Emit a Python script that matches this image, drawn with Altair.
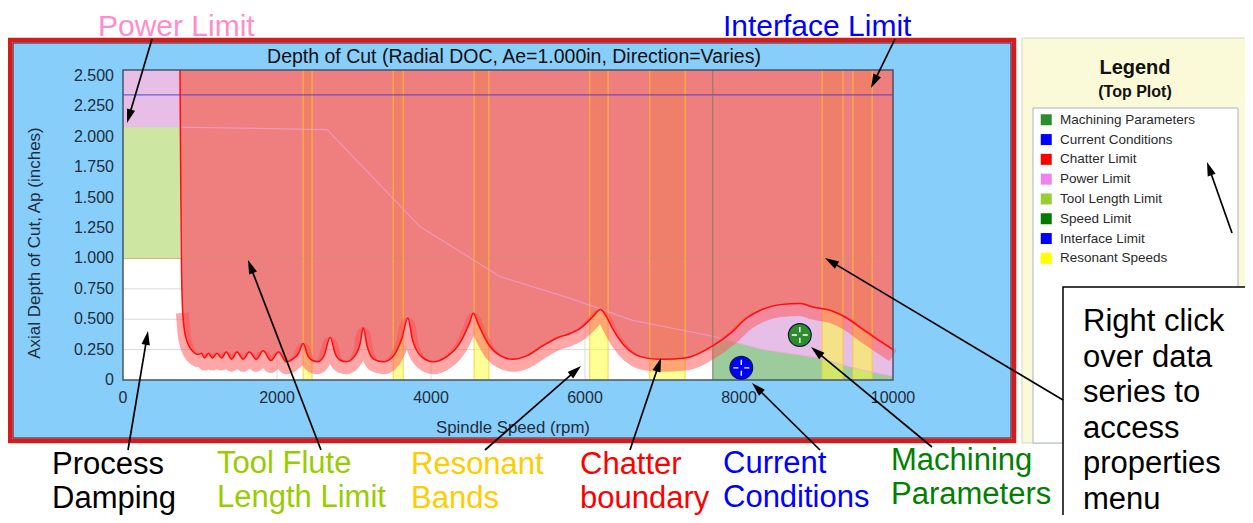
import math
import altair as alt
import pandas as pd

# ---------------- data ----------------
chatter_rpm = [740, 748, 758, 772, 795, 825, 865, 915, 970, 1020, 1060, 1110, 1160, 1220, 1280, 1340,
               1410, 1480, 1560, 1640, 1730, 1820, 1920, 2020, 2120, 2200, 2280, 2340, 2400, 2460,
               2530, 2610, 2690, 2760, 2830, 2900, 3000, 3080, 3120, 3170, 3260, 3380, 3500, 3620,
               3700, 3760, 3880, 4030, 4200, 4380, 4500, 4550, 4620, 4750, 4900, 5060, 5250, 5450,
               5650, 5800, 5950, 6100, 6200, 6280, 6360, 6500, 6650, 6800, 7010, 7300, 7660, 7900,
               8100, 8300, 8530, 8800, 8960, 9200, 9400, 9600, 9830, 10000]
chatter_ap = [2.55, 1.8, 1.0, 0.6, 0.42, 0.33, 0.27, 0.23, 0.21, 0.22, 0.18, 0.22, 0.18, 0.22, 0.18, 0.23,
              0.17, 0.23, 0.17, 0.23, 0.17, 0.24, 0.16, 0.23, 0.15, 0.17, 0.22, 0.30, 0.20, 0.16,
              0.15, 0.20, 0.35, 0.21, 0.16, 0.15, 0.19, 0.30, 0.43, 0.28, 0.17, 0.15, 0.19, 0.34,
              0.51, 0.33, 0.19, 0.15, 0.19, 0.31, 0.47, 0.55, 0.45, 0.29, 0.20, 0.17, 0.20, 0.28,
              0.35, 0.38, 0.43, 0.52, 0.58, 0.52, 0.42, 0.29, 0.21, 0.18, 0.17, 0.18, 0.28, 0.39,
              0.51, 0.58, 0.62, 0.63, 0.60, 0.57, 0.51, 0.42, 0.32, 0.25]

power_rpm = [0, 740, 2650, 3860, 4900, 5770, 6620, 7660, 8310, 8960, 9610, 10000]
power_ap = [2.08, 2.08, 2.06, 1.26, 0.85, 0.68, 0.49, 0.36, 0.25, 0.19, 0.08, 0.03]

band_start = [2340, 3510, 4560, 6060, 6840, 9080, 9480]
band_end = [2455, 3640, 4750, 6300, 7300, 9350, 9730]

tool_length_limit = 1.0
interface_limit = 2.345
speed_limit = 7660
ap_top = 2.55

point_series = ["Current Conditions", "Machining Parameters"]
point_rpm = [8030, 8790]
point_ap = [0.10, 0.37]

legend_names = ["Machining Parameters", "Current Conditions", "Chatter Limit", "Power Limit",
                "Tool Length Limit", "Speed Limit", "Interface Limit", "Resonant Speeds"]
legend_colors = ["#2e8b2e", "#0000ff", "#ff0000", "#ee82ee", "#9acd32", "#007a00", "#0000ff", "#ffff00"]

x_ticks = [0, 2000, 4000, 6000, 8000, 10000]
x_tick_labels = ["0", "2000", "4000", "6000", "8000", "10000"]
y_ticks = [0, 0.25, 0.5, 0.75, 1.0, 1.25, 1.5, 1.75, 2.0, 2.25, 2.5]
y_tick_labels = ["0", "0.250", "0.500", "0.750", "1.000", "1.250", "1.500", "1.750", "2.000",
                 "2.250", "2.500"]
x_grid = [2000, 4000, 6000, 8000]
y_grid = [0.25, 0.5, 0.75, 1.0, 1.25, 1.5, 1.75, 2.0, 2.25, 2.5]

# ---------------- tables ----------------
chatter_df = pd.DataFrame({"rpm": chatter_rpm, "ap": chatter_ap})
power_df = pd.DataFrame({"rpm": power_rpm, "ap": power_ap})
bands_df = pd.DataFrame({"start": band_start, "end": band_end})
edges_df = pd.DataFrame({"rpm": band_start + band_end})
points_df = pd.DataFrame({"series": point_series, "rpm": point_rpm, "ap": point_ap})
xgrid_df = pd.DataFrame({"g": x_grid})
ygrid_df = pd.DataFrame({"g": y_grid})
xt_df = pd.DataFrame({"t": x_ticks, "lab": x_tick_labels})
yt_df = pd.DataFrame({"t": y_ticks, "lab": y_tick_labels})
one = pd.DataFrame({"k": [0]})

FONT = "Liberation Sans, Arial, Helvetica, sans-serif"
W, H = 1237, 507
chatter_start = chatter_rpm[0]


def P(v):
    return v - 8


XS = alt.Scale(domain=[0, 10000], range=[P(123), P(893)], nice=False, zero=False)
YS = alt.Scale(domain=[0, ap_top], range=[P(380), P(70)], nice=False, zero=False)


def XF(f):
    return alt.X(f, type="quantitative", scale=XS, axis=None)


def YF(f):
    return alt.Y(f, type="quantitative", scale=YS, axis=None)


def XD(v):
    return alt.XDatum(v, type="quantitative", scale=XS, axis=None)


def YD(v):
    return alt.YDatum(v, type="quantitative", scale=YS, axis=None)


def pix_rect(x1, y1, x2, y2, **kw):
    return alt.Chart(one).mark_rect(**kw).encode(
        x=alt.value(P(x1)), x2=alt.value(P(x2)), y=alt.value(P(y1)), y2=alt.value(P(y2)))


def txt(s, x, y, size, color, align="left", baseline="alphabetic", weight="normal", angle=None):
    kw = dict(text=s, align=align, baseline=baseline, fontSize=size, font=FONT, color=color,
              fontWeight=weight)
    if angle is not None:
        kw["angle"] = angle
    return alt.Chart(one).mark_text(**kw).encode(x=alt.value(P(x)), y=alt.value(P(y)))


def arrow(tx, ty, hx, hy):
    dx, dy = hx - tx, hy - ty
    L = math.hypot(dx, dy)
    ux, uy = dx / L, dy / L
    ang = math.degrees(math.atan2(dx, -dy)) % 360
    line = alt.Chart(one).mark_rule(color="black", strokeWidth=1.7).encode(
        x=alt.value(P(tx)), y=alt.value(P(ty)),
        x2=alt.value(P(hx - ux * 10)), y2=alt.value(P(hy - uy * 10)))
    head = alt.Chart(one).mark_point(shape="M0,-1L0.6,1L-0.6,1Z", filled=True, color="black",
                                     opacity=1, size=196, angle=ang).encode(
        x=alt.value(P(hx - ux * 7)), y=alt.value(P(hy - uy * 7)))
    return [line, head]


layers = []

# panels
layers.append(pix_rect(10, 40, 1014, 441, fill="#87cefa", stroke="#d41c1c", strokeWidth=4.5))
layers.append(pix_rect(13, 43, 1011, 438, fillOpacity=0, stroke="#8a0000", strokeWidth=1))
layers.append(pix_rect(1022, 38, 1262, 443, fill="#fafad8", stroke="#d6d6c6", strokeWidth=1))
layers.append(pix_rect(1033, 108, 1238, 443, fill="white", stroke="#a8b4c4", strokeWidth=1))

# plot background
layers.append(alt.Chart(one).mark_rect(fill="white").encode(
    x=XD(0), x2=alt.X2Datum(10000), y=YD(0), y2=alt.Y2Datum(ap_top)))

# grid
layers.append(alt.Chart(xgrid_df).mark_rule(color="#dadada", strokeWidth=1).encode(
    x=XF("g"), y=YD(0), y2=alt.Y2Datum(ap_top)))
layers.append(alt.Chart(ygrid_df).mark_rule(color="#dadada", strokeWidth=1).encode(
    y=YF("g"), x=XD(0), x2=alt.X2Datum(10000)))

# tick labels through the scales
layers.append(alt.Chart(xt_df).mark_text(font=FONT, fontSize=16, color="#1e2d3c", align="center",
                                         baseline="middle").encode(
    x=XF("t"), y=alt.value(P(398)), text="lab:N"))
layers.append(alt.Chart(yt_df).mark_text(font=FONT, fontSize=16, color="#1e2d3c", align="right",
                                         baseline="middle").encode(
    y=YF("t"), x=alt.value(P(114)), text="lab:N"))

# limit regions
layers.append(alt.Chart(one).mark_rect(fill="#cde6a2").encode(
    x=XD(0), x2=alt.X2Datum(chatter_start), y=YD(tool_length_limit), y2=alt.Y2Datum(ap_top)))
layers.append(alt.Chart(power_df).transform_filter(
    (alt.datum.rpm <= chatter_start)).mark_area(fill="#e6bee6", opacity=1).encode(
    x=XF("rpm"), y=YF("ap"), y2=alt.Y2Datum(ap_top)))
layers.append(alt.Chart(power_df).transform_filter(alt.datum.rpm >= speed_limit)
              .mark_area(fill="#e6bee6", opacity=1).encode(
    x=XF("rpm"), y=YF("ap"), y2=alt.Y2Datum(ap_top)))
layers.append(alt.Chart(power_df).transform_filter(alt.datum.rpm >= speed_limit)
              .mark_area(fill="#9ccb9c", opacity=1).encode(
    x=XF("rpm"), y=YF("ap"), y2=alt.Y2Datum(0)))
# white base under the chatter region so that it looks uniform
layers.append(alt.Chart(chatter_df).mark_area(fill="white", opacity=1, interpolate="monotone").encode(
    x=XF("rpm"), y=YF("ap"), y2=alt.Y2Datum(ap_top)))
layers.append(alt.Chart(bands_df).mark_rect(fill="#ffff3c", opacity=0.55).encode(
    x=XF("start"), x2="end", y=YD(0), y2=alt.Y2Datum(ap_top)))
layers.append(alt.Chart(chatter_df).mark_area(fill="#ec6262", opacity=0.82, interpolate="monotone").encode(
    x=XF("rpm"), y=YF("ap"), y2=alt.Y2Datum(ap_top)))
layers.append(alt.Chart(edges_df).mark_rule(color="#ffc828", strokeWidth=1.4, opacity=0.6).encode(
    x=XF("rpm"), y=YD(0), y2=alt.Y2Datum(ap_top)))

# limit lines
layers.append(alt.Chart(one).mark_rule(color="#c39a5a", strokeWidth=1, opacity=0.6).encode(
    x=XD(0), x2=alt.X2Datum(10000), y=YD(tool_length_limit)))
layers.append(alt.Chart(power_df).transform_filter(alt.datum.rpm >= chatter_start)
              .mark_line(color="#f2a2dc", strokeWidth=1.2, opacity=0.65).encode(
    x=XF("rpm"), y=YF("ap")))
layers.append(alt.Chart(one).mark_rule(color="#4038d8", strokeWidth=1, opacity=0.9).encode(
    x=XD(0), x2=alt.X2Datum(10000), y=YD(interface_limit)))
layers.append(alt.Chart(one).mark_rule(color="#7c7c60", strokeWidth=1).encode(
    x=XD(speed_limit), y=YD(0), y2=alt.Y2Datum(ap_top)))

# chatter boundary
layers.append(alt.Chart(chatter_df).transform_filter(alt.datum.ap < 1.0)
              .mark_line(color="#ff5050", strokeWidth=13, opacity=0.5, yOffset=6,
                         interpolate="monotone").encode(x=XF("rpm"), y=YF("ap")))
layers.append(alt.Chart(chatter_df).mark_line(color="#ff0c0c", strokeWidth=1.5,
                                              interpolate="monotone").encode(
    x=XF("rpm"), y=YF("ap")))

# plot frame
layers.append(alt.Chart(one).mark_rect(fillOpacity=0, stroke="#46566a", strokeWidth=1.5).encode(
    x=XD(0), x2=alt.X2Datum(10000), y=YD(0), y2=alt.Y2Datum(ap_top)))

# points with legend
layers.append(alt.Chart(points_df).mark_point(filled=True, size=520, opacity=1, stroke="#0b1b3b",
                                              strokeWidth=1.2).encode(
    x=XF("rpm"), y=YF("ap"),
    color=alt.Color("series:N", scale=alt.Scale(domain=legend_names, range=legend_colors),
                    legend=alt.Legend(title=None, orient="none", legendX=P(1039.5), legendY=P(113),
                                      symbolType="square", symbolSize=121, symbolStrokeWidth=0,
                                      symbolOpacity=1, labelFont=FONT, labelFontSize=13.5,
                                      labelColor="#2a2a2a", rowPadding=4.8, padding=0,
                                      labelOffset=7, labelLimit=300))))
layers.append(alt.Chart(points_df).mark_point(
    shape="M-0.7,0H-0.25M0.25,0H0.7M0,-0.7V-0.25M0,0.25V0.7", filled=False, size=520,
    stroke="white", strokeWidth=1.4, opacity=1).encode(x=XF("rpm"), y=YF("ap")))

# chart texts
layers.append(txt("Depth of Cut (Radial DOC, Ae=1.000in, Direction=Varies)", 514, 57, 19.5, "#111111",
                  align="center", baseline="middle"))
layers.append(txt("Axial Depth of Cut, Ap (inches)", 35, 243, 17, "#1e2d3c", align="center",
                  baseline="middle", angle=270))
layers.append(txt("Spindle Speed (rpm)", 513, 428, 16.8, "#1e2d3c", align="center", baseline="middle"))
layers.append(txt("Legend", 1135, 68, 20, "#111111", align="center", baseline="middle", weight="bold"))
layers.append(txt("(Top Plot)", 1135, 92, 16, "#111111", align="center", baseline="middle", weight="bold"))

# annotation box
layers.append(pix_rect(1063, 287, 1270, 540, fill="white", stroke="black", strokeWidth=1.5))

# annotation texts
AF = 31
LS = 34
layers.append(txt("Power Limit", 98, 36, 30, "#ff8dc8"))
layers.append(txt("Interface Limit", 723, 36, 30, "#0000ff"))
for i, s in enumerate(["Process", "Damping"]):
    layers.append(txt(s, 52, 474 + LS * i, AF, "#000000"))
for i, s in enumerate(["Tool Flute", "Length Limit"]):
    layers.append(txt(s, 217, 473 + LS * i, AF, "#99cc00"))
for i, s in enumerate(["Resonant", "Bands"]):
    layers.append(txt(s, 411, 474 + LS * i, AF, "#ffcc00"))
for i, s in enumerate(["Chatter", "boundary"]):
    layers.append(txt(s, 580, 474 + LS * i, AF, "#ff0000"))
for i, s in enumerate(["Current", "Conditions"]):
    layers.append(txt(s, 723, 473 + LS * i, AF, "#0000ff"))
for i, s in enumerate(["Machining", "Parameters"]):
    layers.append(txt(s, 891, 470 + LS * i, AF, "#008000"))
for i, s in enumerate(["Right click", "over data", "series to", "access", "properties", "menu"]):
    layers.append(txt(s, 1083, 331 + 35.6 * i, AF, "#000000"))

# arrows
for a in [(152, 39, 127, 123), (895, 39, 871, 88), (128, 450, 148, 331), (321, 450, 248, 260),
          (485, 450, 581, 366), (630, 450, 661, 358), (820, 450, 752, 383), (932, 447, 811, 347),
          (1063, 400, 825, 258), (1232, 233, 1207, 162)]:
    layers.extend(arrow(*a))

chart = alt.layer(*layers).properties(
    width=W, height=H, autosize=alt.AutoSizeParams(type="none"), padding=0, background="white"
).configure_view(strokeOpacity=0)

chart.save("out.html", embed_options={"renderer": "svg", "actions": False})
